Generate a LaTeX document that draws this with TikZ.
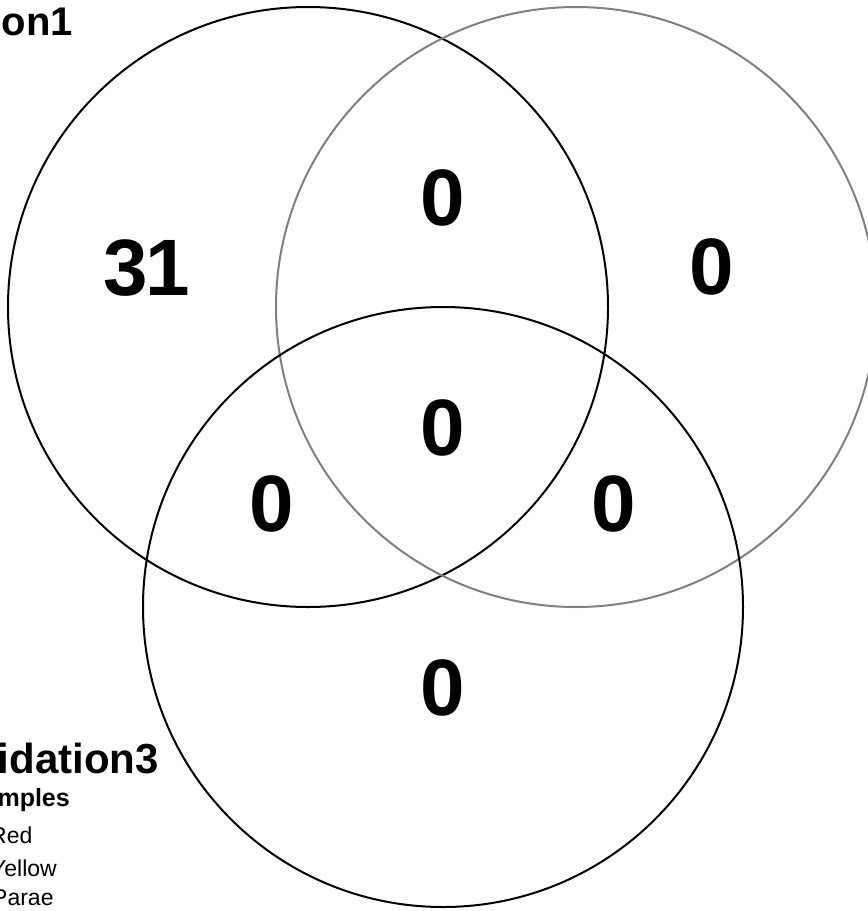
\documentclass[tikz,border=0pt]{standalone}
\usepackage{fontspec}
\setmainfont{Liberation Sans}
\begin{document}
\begin{tikzpicture}[x=1pt,y=-1pt,
  setline/.style={line width=2pt},
  count/.style={font=\bfseries\fontsize{80}{96}\selectfont, inner sep=0pt, anchor=center},
  setname/.style={font=\bfseries\fontsize{40}{48}\selectfont, inner sep=0pt, anchor=base east},
  legtitle/.style={font=\bfseries\fontsize{25}{30}\selectfont, inner sep=0pt, anchor=base east},
  legitem/.style={font=\fontsize{23}{28}\selectfont, inner sep=0pt, anchor=base west}]
\useasboundingbox (0,0) rectangle (868,911);
\clip (0,0) rectangle (868,911);
\fill[white] (0,0) rectangle (868,911);

% the three sets
\draw[setline, draw=black]       (308,307) circle (300) coordinate (cA);
\draw[setline, draw=black!50]    (576,307) circle (300) coordinate (cB);
\draw[setline, draw=black]       (443,607) circle (300) coordinate (cC);

% region counts
\node[count] (nA)   at (147,268) {3\kern-2.5pt1};
\node[count] (nAB)  at (443,198) {0};
\node[count] (nB)   at (712,267) {0};
\node[count] (nABC) at (443,428) {0};
\node[count] (nAC)  at (272,504) {0};
\node[count] (nBC)  at (614,504) {0};
\node[count] (nC)   at (443,688) {0};

% set labels
\node[setname] (lA) at (73,35) {on1};
\node[setname, font=\bfseries\fontsize{42}{50}\selectfont] (lC) at (159,773) {idation3};

% legend
\node[legtitle] (lt) at (70,806) {mples};
\node[legitem] (l1) at (-10,843) {Red};
\node[legitem] (l2) at (-9,876) {Yellow};
\node[legitem] (l3) at (-8,905) {Parae};
\end{tikzpicture}
\end{document}
